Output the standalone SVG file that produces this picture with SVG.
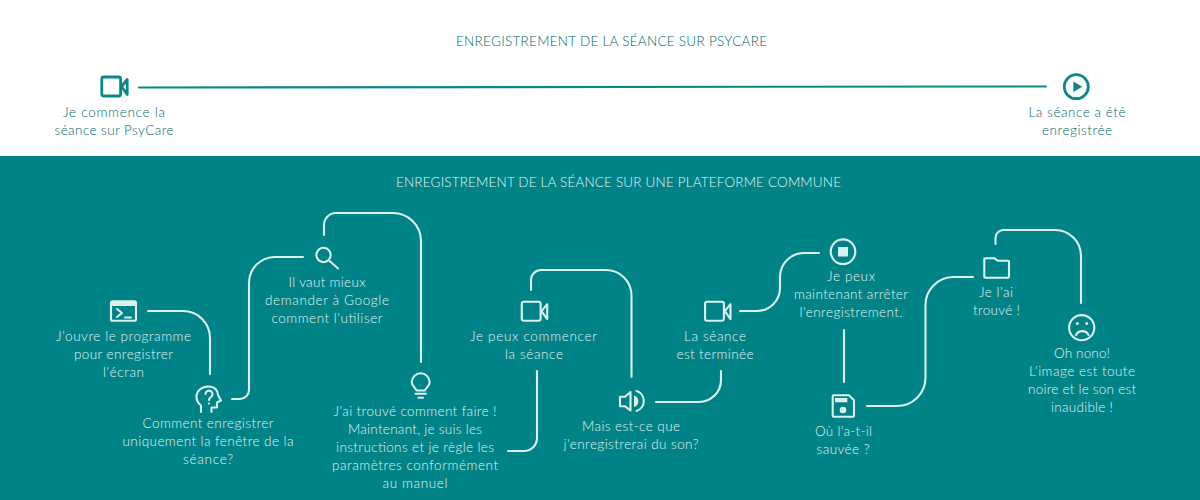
<svg xmlns="http://www.w3.org/2000/svg" xmlns:xlink="http://www.w3.org/1999/xlink" width="1200" height="500" viewBox="0 0 1200 500">
<style>
text{font-family:"Lato","Open Sans","Liberation Sans",sans-serif;font-size:13.5px;font-weight:300;text-anchor:middle}
.t{fill:#00686b}
.b{fill:#e2f3f2}
.ic{fill:none;stroke:#dcf0ef;stroke-width:2.100;stroke-linecap:round;stroke-linejoin:round}
.ic .f{fill:#dcf0ef;stroke:none}
.top{stroke:#0b878a;fill:none;stroke-width:2.800;stroke-linejoin:round}
.top .f{fill:#0b878a;stroke:none}
#connectors path{fill:none;stroke:#dcf0ef;stroke-width:2.100;stroke-linecap:round}
#connectors path.tl{stroke:#0b878a}
</style>
<defs>
<g id="video"><rect x="-9.200" y="-9.500" width="18.800" height="19" rx="2"/><path class="f" d="M10.500 0L16.200-7V8Z"/></g>
</defs>
<rect width="1200" height="500" fill="#fff"/>
<rect y="156" width="1200" height="344" fill="#008387"/>
<text id="title-top" class="t" x="611.500" y="46" textLength="311">ENREGISTREMENT DE LA SÉANCE SUR PSYCARE</text>
<text id="title-bottom" class="b" x="618.500" y="187" textLength="445">ENREGISTREMENT DE LA SÉANCE SUR UNE PLATEFORME COMMUNE</text>
<g id="connectors">
<path class="tl" d="M139 87.500L1046 86.500"/>
<path d="M148 311H183A27 27 0 0 1 210 338V374"/>
<path d="M232 399H240A9 9 0 0 0 249 390V283A26 26 0 0 1 275 257H303"/>
<path d="M324 235V225A12 12 0 0 1 336 213H393A28 28 0 0 1 421 241V362"/>
<path d="M508 451H524A13 13 0 0 0 537 438V371"/>
<path d="M531 290V280A10 10 0 0 1 541 270H606A25.500 25.500 0 0 1 631.500 295.500V377"/>
<path d="M656 402H699A22 22 0 0 0 721 380V371"/>
<path d="M740 311H757A23 23 0 0 0 780 288V277A24 24 0 0 1 804 253H819"/>
<path d="M844 330V382"/>
<path d="M867 406H897A28.500 28.500 0 0 0 925.500 377.500V305A28 28 0 0 1 953.500 277H973"/>
<path d="M995.500 244V238A8 8 0 0 1 1003.500 230H1055A26 26 0 0 1 1081 256V303"/>
</g>
<g id="node-start">
<use href="#video" class="top" transform="translate(111 86.500)"/>
<text class="t" x="114" y="117" textLength="102">Je commence la</text>
<text class="t" x="114" y="135" textLength="119">séance sur PsyCare</text>
</g>
<g id="node-end">
<g class="top"><circle cx="1076.300" cy="86.700" r="12"/><path class="f" d="M1073.300 81.500L1082.300 86.700L1073.300 92Z"/></g>
<text class="t" x="1077" y="117" textLength="97">La séance a été</text>
<text class="t" x="1077" y="135" textLength="70">enregistrée</text>
</g>
<g id="node-programme">
<g class="ic"><rect x="111" y="301.300" width="25" height="19.500" rx="1.500"/><path class="f" d="M111 301.300H136V306H111Z"/><path d="M117 309L122 313L117 317M125 317.500H131"/></g>
<text class="b" x="123.500" y="341" textLength="135">J'ouvre le programme</text>
<text class="b" x="123.500" y="359" textLength="99">pour enregistrer</text>
<text class="b" x="123.500" y="377" textLength="41">l'écran</text>
</g>
<g id="node-comment">
<g class="ic"><path d="M201 412V405.500C198.500 403.500 196.500 400.500 196.500 397C196.500 390.500 202 386.500 208.500 386.500C214.500 386.500 218 390.500 218 395L221 400.500L217 402.500V407.500H211.500V412"/><path d="M205.500 394A3.500 3.500 0 1 1 211 397C209.500 398 209 399 209 400"/><path d="M209 403.500V403.600"/></g>
<text class="b" x="208" y="428" textLength="131">Comment enregistrer</text>
<text class="b" x="208" y="446" textLength="171">uniquement la fenêtre de la</text>
<text class="b" x="208" y="464" textLength="50">séance?</text>
</g>
<g id="node-google">
<g class="ic"><circle cx="323.500" cy="255" r="7.200"/><path d="M329 260.500L338 268.500"/></g>
<text class="b" x="327" y="287" textLength="77">Il vaut mieux</text>
<text class="b" x="327" y="305" textLength="124">demander à Google</text>
<text class="b" x="327" y="323" textLength="111">comment l'utiliser</text>
</g>
<g id="node-trouve">
<g class="ic"><path d="M416.500 390.500C416.500 388.500 411.700 386.500 411.700 382.300A9 9 0 0 1 429.700 382.300C429.700 386.500 424.900 388.500 424.900 390.500Z"/><path d="M415.500 393.800H426M418.500 397.800H423"/></g>
<text class="b" x="415" y="416" textLength="163">J'ai trouvé comment faire !</text>
<text class="b" x="415" y="434" textLength="134">Maintenant, je suis les</text>
<text class="b" x="415" y="452" textLength="158">instructions et je règle les</text>
<text class="b" x="415" y="470" textLength="166">paramètres conformément</text>
<text class="b" x="415" y="488" textLength="65">au manuel</text>
</g>
<g id="node-commencer">
<use href="#video" class="ic" transform="translate(531 311.200)"/>
<text class="b" x="533.500" y="341" textLength="127">Je peux commencer</text>
<text class="b" x="534" y="359" textLength="58">la séance</text>
</g>
<g id="node-son">
<g class="ic"><path d="M620 396.800H625L630.500 392V410.500L625 406.300H620Z"/><path class="f" d="M634 395.500A6 6 0 0 1 634 407Z"/><path d="M636.500 391A10.500 10.500 0 0 1 636.500 411"/></g>
<text class="b" x="631" y="431" textLength="98">Mais est-ce que</text>
<text class="b" x="631" y="449" textLength="135">j'enregistrerai du son?</text>
</g>
<g id="node-terminee">
<use href="#video" class="ic" transform="translate(714.300 311.200)"/>
<text class="b" x="715" y="341" textLength="62">La séance</text>
<text class="b" x="715" y="359" textLength="77">est terminée</text>
</g>
<g id="node-arreter">
<g class="ic"><circle cx="843" cy="251.700" r="12.300"/><rect class="f" x="838" y="247" width="10" height="9.500"/></g>
<text class="b" x="851" y="281" textLength="48">Je peux</text>
<text class="b" x="851" y="299" textLength="114">maintenant arrêter</text>
<text class="b" x="851" y="317" textLength="103">l'enregistrement.</text>
</g>
<g id="node-sauvee">
<g class="ic"><path d="M832.700 396.300A1 1 0 0 1 833.700 395.300H849L854 400.300V415.700A1 1 0 0 1 853 416.700H833.700A1 1 0 0 1 832.700 415.700Z"/><rect class="f" x="835" y="398" width="12.300" height="4.300"/><circle class="f" cx="843" cy="410" r="3.300"/></g>
<text class="b" x="843.500" y="436" textLength="57">Où l'a-t-il</text>
<text class="b" x="843" y="454" textLength="53">sauvée ?</text>
</g>
<g id="node-dossier">
<g class="ic"><path d="M984.300 259.300A1 1 0 0 1 985.300 258.300H994.500L998 260.800H1008A1 1 0 0 1 1009 261.800V276.700A1 1 0 0 1 1008 277.700H985.300A1 1 0 0 1 984.300 276.700Z"/></g>
<text class="b" x="996" y="297" textLength="34">Je l'ai</text>
<text class="b" x="996.500" y="315" textLength="47">trouvé !</text>
</g>
<g id="node-nono">
<g class="ic"><circle cx="1081.700" cy="327.700" r="12.600"/><circle class="f" cx="1077.300" cy="323.500" r="1.500"/><circle class="f" cx="1086.700" cy="323.500" r="1.500"/><path d="M1076 335A7 7 0 0 1 1088.500 335"/></g>
<text class="b" x="1082" y="358" textLength="56">Oh nono!</text>
<text class="b" x="1082" y="376" textLength="106">L'image est toute</text>
<text class="b" x="1082" y="394" textLength="108">noire et le son est</text>
<text class="b" x="1082" y="412" textLength="62">inaudible !</text>
</g>
</svg>
